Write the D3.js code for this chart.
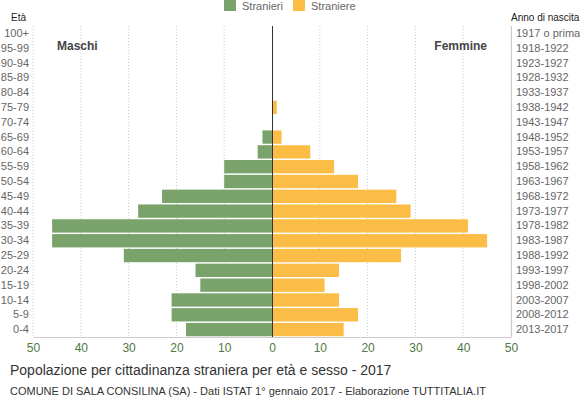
<!DOCTYPE html>
<html><head><meta charset="utf-8">
<script src="https://cdn.jsdelivr.net/npm/d3@7/dist/d3.min.js"></script>
<style>body{margin:0;background:#fff;}svg{display:block;font-family:"Liberation Sans",Arial,sans-serif;}</style>
</head><body><svg id="c" width="580" height="400"></svg>
<script>
const ages = ["100+","95-99","90-94","85-89","80-84","75-79","70-74","65-69","60-64","55-59","50-54","45-49","40-44","35-39","30-34","25-29","20-24","15-19","10-14","5-9","0-4"];
const years = ["1917 o prima","1918-1922","1923-1927","1928-1932","1933-1937","1938-1942","1943-1947","1948-1952","1953-1957","1958-1962","1963-1967","1968-1972","1973-1977","1978-1982","1983-1987","1988-1992","1993-1997","1998-2002","2003-2007","2008-2012","2013-2017"];
const maschi = [0,0,0,0,0,0,0,2,3,10,10,23,28,46,46,31,16,15,21,21,18];
const femmine = [0,0,0,0,0,1,0,2,8,13,18,26,29,41,45,27,14,11,14,18,15];
const ticks = [50,40,30,20,10,0,10,20,30,40,50];
const tickVals = [-50,-40,-30,-20,-10,0,10,20,30,40,50];

const svg = d3.select("#c");
const L=33, R=511, T=26, B=337;
const x = d3.scaleLinear().domain([-50,50]).range([L,R]);
const y = d3.scaleBand().domain(ages).range([T,B]).paddingInner(0.1).paddingOuter(0.05);
const cM="#7aa36b", cF="#fbbd45";

// gridlines
svg.append("g").selectAll("line").data(tickVals.filter(d=>d!==0)).join("line")
  .attr("x1",d=>x(d)).attr("x2",d=>x(d)).attr("y1",T).attr("y2",B)
  .attr("stroke","#ccc").attr("stroke-dasharray","1,2").attr("stroke-width",1);

// bars
svg.append("g").selectAll("rect").data(ages).join("rect")
  .attr("x",(d,i)=>x(-maschi[i])).attr("width",(d,i)=>x(0)-x(-maschi[i]))
  .attr("y",d=>y(d)).attr("height",y.bandwidth()).attr("fill",cM);
svg.append("g").selectAll("rect").data(ages).join("rect")
  .attr("x",x(0)).attr("width",(d,i)=>x(femmine[i])-x(0))
  .attr("y",d=>y(d)).attr("height",y.bandwidth()).attr("fill",cF);

// center line
svg.append("line").attr("x1",x(0)+0.5).attr("x2",x(0)+0.5).attr("y1",T).attr("y2",B).attr("stroke","#333").attr("stroke-width",1);

// bottom axis
const xa = svg.append("g").attr("transform",`translate(0,${B})`)
  .call(d3.axisBottom(x).tickValues(tickVals).tickFormat((d,i)=>ticks[i]).tickSize(0).tickPadding(6));
xa.select(".domain").attr("stroke","#ccc");
xa.selectAll("text").attr("fill","#4d7a3d").attr("font-size",12).attr("font-family","Liberation Sans, Arial, sans-serif");

// right axis line
svg.append("line").attr("x1",R+0.5).attr("x2",R+0.5).attr("y1",T).attr("y2",B).attr("stroke","#ccc");
svg.append("line").attr("x1",L+0.5).attr("x2",L+0.5).attr("y1",T).attr("y2",B).attr("stroke","#ddd").attr("stroke-dasharray","1,2");

// left labels
const ly = d3.axisLeft(y).tickSize(0).tickPadding(4);
const lg = svg.append("g").attr("transform",`translate(${L},0)`).call(ly);
lg.select(".domain").remove();
lg.selectAll("text").attr("fill","#666").attr("font-size",11).attr("font-family","Liberation Sans, Arial, sans-serif");

const yr = d3.scaleBand().domain(years).range(y.range()).paddingInner(0.1).paddingOuter(0.05);
const rg = svg.append("g").attr("transform",`translate(${R},0)`).call(d3.axisRight(yr).tickSize(0).tickPadding(5));
rg.select(".domain").remove();
rg.selectAll("text").attr("fill","#666").attr("font-size",11).attr("font-family","Liberation Sans, Arial, sans-serif");

// headers
svg.append("text").attr("x",11).attr("y",21).attr("font-size",10).attr("fill","#222").text("Età");
svg.append("text").attr("x",511).attr("y",21).attr("font-size",10).attr("fill","#222").text("Anno di nascita");
svg.append("text").attr("x",57).attr("y",50).attr("font-size",12).attr("font-weight","bold").attr("fill","#444").text("Maschi");
svg.append("text").attr("x",487).attr("y",50).attr("text-anchor","end").attr("font-size",12).attr("font-weight","bold").attr("fill","#444").text("Femmine");

// legend
const leg = [{t:"Stranieri",c:cM,x:224},{t:"Straniere",c:cF,x:293}];
leg.forEach(d=>{
  svg.append("rect").attr("x",d.x).attr("y",0).attr("width",12).attr("height",11).attr("fill",d.c);
  svg.append("text").attr("x",d.x+18).attr("y",10).attr("font-size",11).attr("fill","#666").text(d.t);
});

// titles
svg.append("text").attr("x",10).attr("y",375).attr("font-size",14).attr("fill","#333").text("Popolazione per cittadinanza straniera per età e sesso - 2017");
svg.append("text").attr("x",10).attr("y",395).attr("font-size",11).attr("fill","#333").text("COMUNE DI SALA CONSILINA (SA) - Dati ISTAT 1° gennaio 2017 - Elaborazione TUTTITALIA.IT");
</script></body></html>
